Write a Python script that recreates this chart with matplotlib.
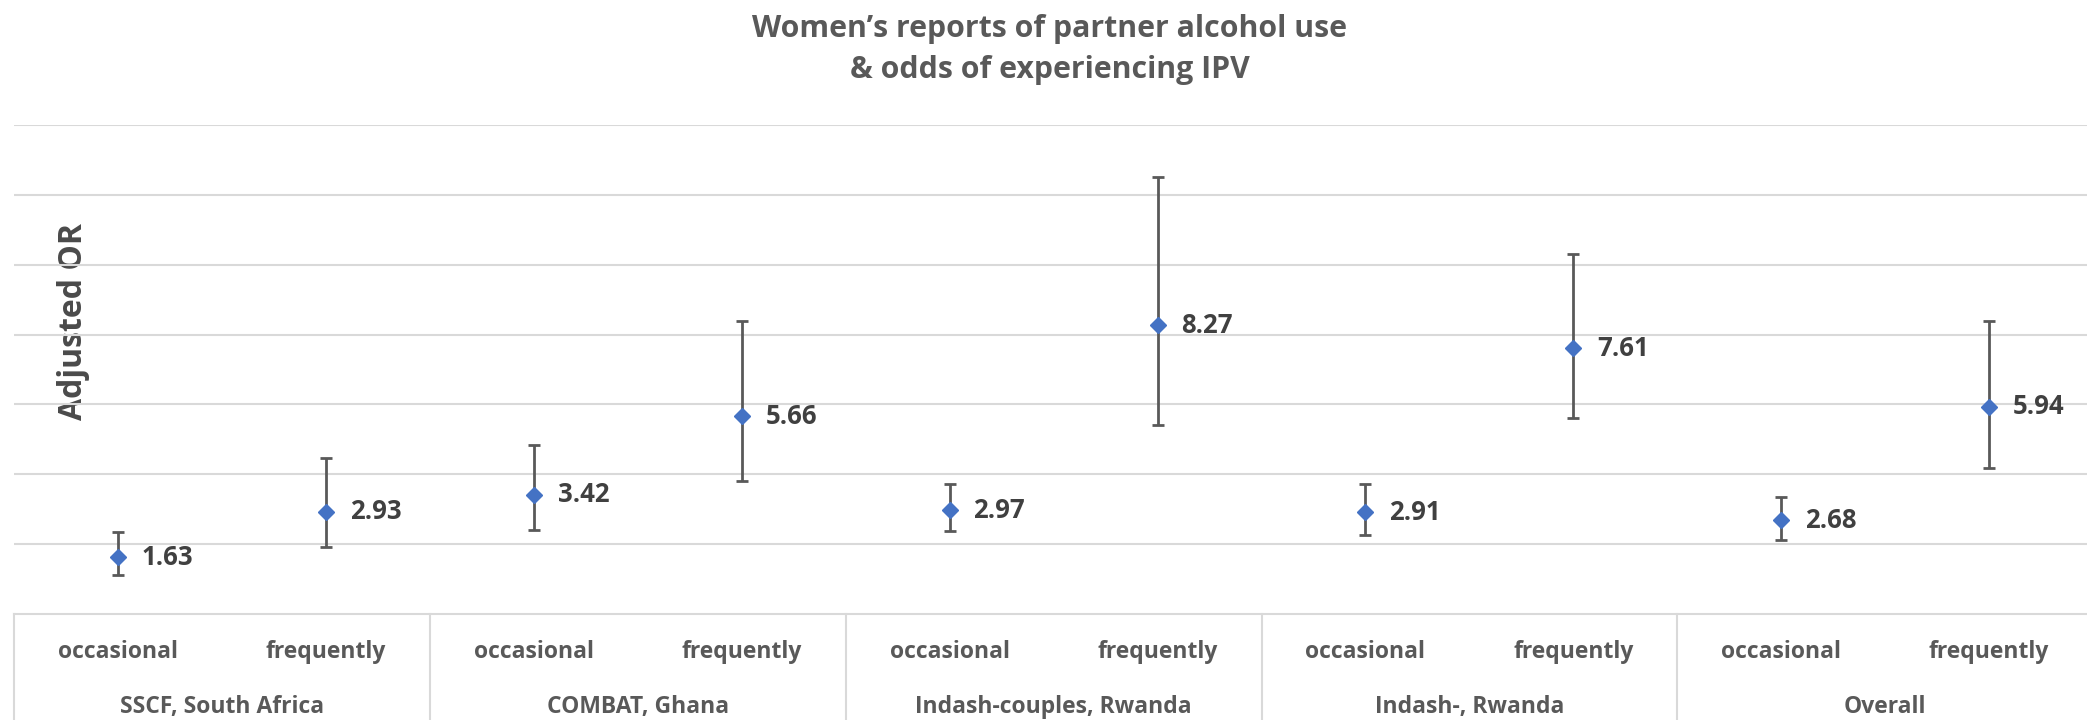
from __future__ import annotations

import matplotlib

matplotlib.use("Agg")
import matplotlib.pyplot as plt

TITLE_LINES = ["Women\u2019s reports of partner alcohol use", "& odds of experiencing IPV"]
Y_LABEL = "Adjusted OR"

STUDIES = ["SSCF, South Africa", "COMBAT, Ghana", "Indash-couples, Rwanda", "Indash-, Rwanda", "Overall"]
USE_LEVELS = ["occasional", "frequently"]

# adjusted odds ratio and 95% CI per study, order: occasional, frequently
aor = [1.63, 2.93, 3.42, 5.66, 2.97, 8.27, 2.91, 7.61, 2.68, 5.94]
ci_low = [1.13, 1.93, 2.41, 3.82, 2.37, 5.40, 2.27, 5.62, 2.13, 4.19]
ci_high = [2.36, 4.46, 4.85, 8.39, 3.73, 12.52, 3.73, 10.31, 3.34, 8.40]

Y_MAX = 14
Y_TICKS = [2, 4, 6, 8, 10, 12, 14]

W, H = 2087, 720
FONT = ["Open Sans", "DejaVu Sans"]
GRID = "#d9d9d9"
TEXT = "#595959"


def _px(x: float, y: float) -> tuple[float, float]:
    return x / W, 1 - y / H


def plot_chart(path: str = "out.png") -> None:
    plt.rcParams["font.family"] = FONT
    fig = plt.figure(figsize=(W / 100, H / 100), dpi=100)

    left, right, top, bottom = 14.3, 2093.0, 125.0, 614.0
    ax = fig.add_axes([left / W, 1 - bottom / H, (right - left) / W, (bottom - top) / H])

    n = len(STUDIES) * len(USE_LEVELS)
    xs = [i + 0.5 for i in range(n)]
    yerr = [
        [v - lo for v, lo in zip(aor, ci_low)],
        [hi - v for v, hi in zip(aor, ci_high)],
    ]
    ax.errorbar(
        xs, aor, yerr=yerr, fmt="D", color="#4472c4", markersize=8,
        ecolor="#595959", elinewidth=2, capsize=4.3, capthick=2, zorder=3,
    )
    for x, v in zip(xs, aor):
        ax.annotate(
            f"{v:.2f}", (x, v), xytext=(17, 0), textcoords="offset points",
            ha="left", va="center", fontsize=18.5, fontweight="bold", color="#404040",
        )

    ax.set_xlim(0, n)
    ax.set_ylim(0, Y_MAX)
    ax.set_yticks(Y_TICKS)
    ax.set_yticklabels([])
    ax.set_xticks([])
    ax.tick_params(length=0)
    ax.grid(True, axis="y", color=GRID, linewidth=1.5)
    ax.set_axisbelow("line")
    for side in ("top", "right", "left"):
        ax.spines[side].set_visible(False)
    ax.spines["bottom"].set_color(GRID)
    ax.spines["bottom"].set_linewidth(1.5)

    ax.text(
        (73 - left) / (right - left), (bottom - 322) / (bottom - top), Y_LABEL,
        transform=ax.transAxes, rotation=90, ha="center", va="center",
        fontsize=23, fontweight="bold", color="#4a4a4a", zorder=1,
    )

    # two-level category table under the axis
    trans = ax.get_xaxis_transform()
    axes_h = bottom - top
    sep_y = -(H - bottom + 5) / axes_h
    for g in range(len(STUDIES) + 1):
        ax.plot([2 * g, 2 * g], [0, sep_y], transform=trans, color=GRID,
                linewidth=1.5, clip_on=False)
    sub_y = -(658 - bottom) / axes_h
    grp_y = -(713 - bottom) / axes_h
    for g, study in enumerate(STUDIES):
        for k, level in enumerate(USE_LEVELS):
            ax.text(2 * g + k + 0.5, sub_y, level, transform=trans, ha="center",
                    va="baseline", fontsize=16.5, fontweight="bold", color=TEXT)
        ax.text(2 * g + 1, grp_y, study, transform=trans, ha="center",
                va="baseline", fontsize=16.5, fontweight="bold", color=TEXT)

    for line, base in zip(TITLE_LINES, (37, 78)):
        fx, fy = _px(1050, base)
        fig.text(fx, fy, line, ha="center", va="baseline", fontsize=21.8,
                 fontweight="bold", color=TEXT)

    fig.savefig(path, dpi=100)
    plt.close(fig)


if __name__ == "__main__":
    plot_chart()
